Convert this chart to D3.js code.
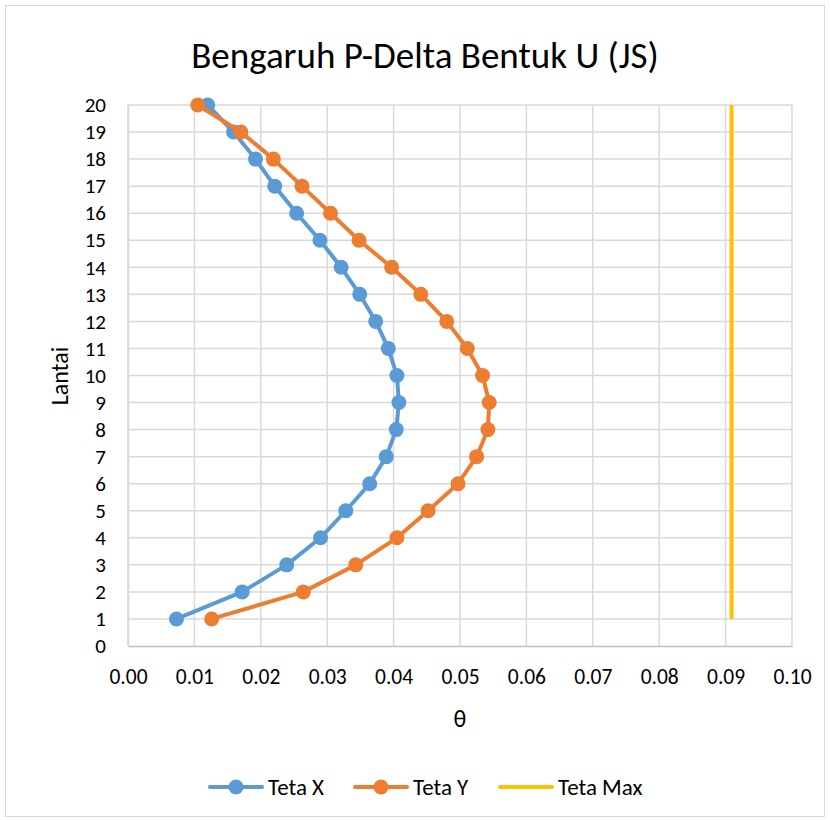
<!DOCTYPE html>
<html>
<head>
<meta charset="utf-8">
<script src="https://cdn.jsdelivr.net/npm/d3@7"></script>
<style>
  html, body { margin: 0; padding: 0; background: #fff; }
  svg { display: block; }
  text { font-family: Carlito, Calibri, Lato, "Open Sans", sans-serif; fill: #000; }
</style>
</head>
<body>
<svg id="chart" width="830" height="820"></svg>
<script>
// Floors (Lantai) and stability coefficients θ per direction
const floors = [1,2,3,4,5,6,7,8,9,10,11,12,13,14,15,16,17,18,19,20];
const tetaX = [0.0073,0.0172,0.0239,0.0290,0.0328,0.0364,0.0389,0.0404,0.0408,0.0405,
               0.0392,0.0373,0.0349,0.0321,0.0289,0.0254,0.0221,0.0192,0.0159,0.0120];
const tetaY = [0.0126,0.0264,0.0343,0.0405,0.0452,0.0497,0.0525,0.0542,0.0544,0.0534,
               0.0511,0.0480,0.0441,0.0397,0.0348,0.0305,0.0262,0.0219,0.0170,0.0105];
const tetaMax = [0.0909, 0.0909];
const tetaMaxFloors = [1, 20];
const xTicks = [0,0.01,0.02,0.03,0.04,0.05,0.06,0.07,0.08,0.09,0.10];
const yTicks = d3.range(0, 21);

const series = [
  { name: "Teta X", color: "#5B9BD5", values: tetaX },
  { name: "Teta Y", color: "#ED7D31", values: tetaY }
];

const svg = d3.select("#chart");

// chart frame
svg.append("rect")
  .attr("x", 5.5).attr("y", 5.5).attr("width", 819).attr("height", 811)
  .attr("fill", "#fff").attr("stroke", "#D9D9D9").attr("stroke-width", 1);

const plot = { left: 128, right: 792, top: 105, bottom: 646 };
const x = d3.scaleLinear().domain([0, 0.10]).range([plot.left, plot.right]);
const y = d3.scaleLinear().domain([0, 20]).range([plot.bottom, plot.top]);

// gridlines
const grid = svg.append("g");
grid.selectAll("line.v").data(xTicks).join("line")
  .attr("x1", d => x(d)).attr("x2", d => x(d))
  .attr("y1", plot.top).attr("y2", plot.bottom)
  .attr("stroke", "#D9D9D9").attr("stroke-width", 1.5);
grid.selectAll("line.h").data(yTicks.filter(d => d > 0)).join("line")
  .attr("x1", plot.left).attr("x2", plot.right)
  .attr("y1", d => y(d)).attr("y2", d => y(d))
  .attr("stroke", "#D9D9D9").attr("stroke-width", 1.5);

// axes
const xAxis = svg.append("g")
  .attr("transform", `translate(0,${plot.bottom})`)
  .call(d3.axisBottom(x).tickValues(xTicks).tickFormat(d3.format(".2f")).tickSize(0).tickPadding(23));
xAxis.select(".domain").attr("stroke", "#BFBFBF").attr("stroke-width", 1.5);
xAxis.selectAll("text").attr("font-size", 21.5).attr("fill", "#000")
  .style("font-family", "Carlito, Calibri, Lato, sans-serif");

const yAxis = svg.append("g")
  .attr("transform", `translate(${plot.left},0)`)
  .call(d3.axisLeft(y).tickValues(yTicks).tickSize(0).tickPadding(22));
yAxis.select(".domain").attr("stroke", "#D9D9D9").attr("stroke-width", 1.5);
yAxis.selectAll("text").attr("font-size", 21).attr("fill", "#000")
  .style("font-family", "Carlito, Calibri, Lato, sans-serif");

// axis titles
svg.append("text").attr("x", 460).attr("y", 727).attr("text-anchor", "middle")
  .attr("font-size", 24).text("θ");
svg.append("text").attr("transform", "translate(68,376) rotate(-90)")
  .attr("text-anchor", "middle").attr("font-size", 24).text("Lantai");

// chart title
svg.append("text").attr("x", 425).attr("y", 68).attr("text-anchor", "middle")
  .attr("font-size", 37).text("Bengaruh P-Delta Bentuk U (JS)");

// limit line
svg.append("path")
  .datum(tetaMax.map((v, i) => [v, tetaMaxFloors[i]]))
  .attr("fill", "none").attr("stroke", "#FFC000").attr("stroke-width", 4)
  .attr("d", d3.line().x(d => x(d[0])).y(d => y(d[1])));

// data series
const line = d3.line().x(d => x(d[0])).y(d => y(d[1]));
series.forEach(s => {
  const pts = s.values.map((v, i) => [v, floors[i]]);
  const g = svg.append("g");
  g.append("path").datum(pts)
    .attr("fill", "none").attr("stroke", s.color).attr("stroke-width", 4)
    .attr("stroke-linejoin", "round").attr("d", line);
  g.selectAll("circle").data(pts).join("circle")
    .attr("cx", d => x(d[0])).attr("cy", d => y(d[1])).attr("r", 7.5)
    .attr("fill", s.color);
});

// legend
const legendItems = [
  { name: "Teta X", color: "#5B9BD5", marker: true, x: 210 },
  { name: "Teta Y", color: "#ED7D31", marker: true, x: 355 },
  { name: "Teta Max", color: "#FFC000", marker: false, x: 500 }
];
const legend = svg.append("g");
legendItems.forEach(it => {
  const gy = 787;
  legend.append("line").attr("x1", it.x).attr("x2", it.x + 52)
    .attr("y1", gy).attr("y2", gy).attr("stroke", it.color).attr("stroke-width", 4)
    .attr("stroke-linecap", "round");
  if (it.marker) {
    legend.append("circle").attr("cx", it.x + 26).attr("cy", gy).attr("r", 7.5).attr("fill", it.color);
  }
  legend.append("text").attr("x", it.x + 58).attr("y", gy + 8)
    .attr("font-size", 23).text(it.name);
});
</script>
</body>
</html>
